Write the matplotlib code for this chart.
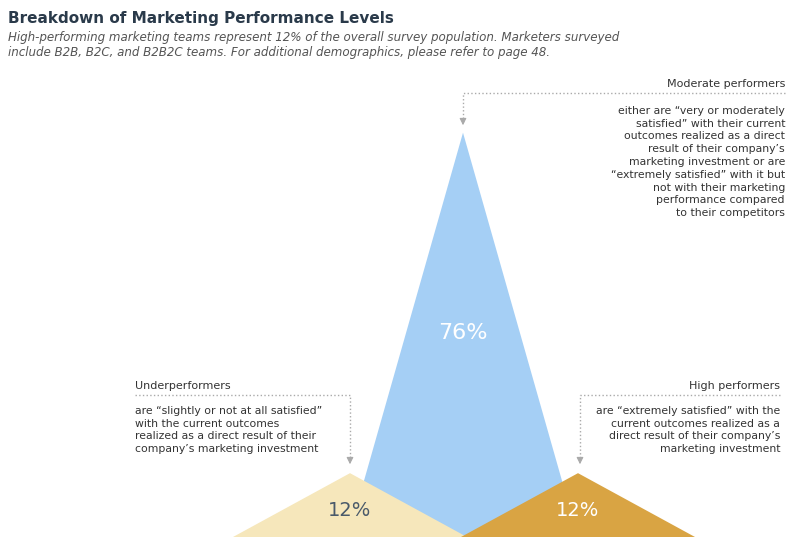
import matplotlib
matplotlib.use("Agg")
import matplotlib.pyplot as plt
from matplotlib.patches import Polygon

categories = ["Underperformers", "Moderate performers", "High performers"]
values = [12, 76, 12]
labels = ["12%", "76%", "12%"]
descriptions = [
    "are \u201cslightly or not at all satisfied\u201d\nwith the current outcomes\nrealized as a direct result of their\ncompany\u2019s marketing investment",
    "either are \u201cvery or moderately\nsatisfied\u201d with their current\noutcomes realized as a direct\nresult of their company\u2019s\nmarketing investment or are\n\u201cextremely satisfied\u201d with it but\nnot with their marketing\nperformance compared\nto their competitors",
    "are \u201cextremely satisfied\u201d with the\ncurrent outcomes realized as a\ndirect result of their company\u2019s\nmarketing investment",
]
colors = ["#f6e7bb", "#a5cff5", "#d9a443"]

fig = plt.figure(figsize=(8, 5.47), dpi=100)
ax = fig.add_axes([0, 0, 1, 1])
ax.set_xlim(0, 800)
ax.set_ylim(547, 0)
ax.axis("off")

base = 537
scale = 5.32
centers = [350, 463, 578]
halfw = [117, 115, 117]
order = [1, 0, 2]
for i in order:
    h = values[i] * scale
    poly = Polygon([(centers[i] - halfw[i], base), (centers[i], base - h),
                    (centers[i] + halfw[i], base)], closed=True,
                   facecolor=colors[i], edgecolor="none", zorder=2 + (i != 1))
    ax.add_patch(poly)

ax.text(463, 333, labels[1], color="white", fontsize=16, ha="center", va="center", zorder=5)
ax.text(350, 510, labels[0], color="#4a5a6a", fontsize=14, ha="center", va="center", zorder=5)
ax.text(578, 510, labels[2], color="white", fontsize=14, ha="center", va="center", zorder=5)

fig.text(8/800, 1-18/547, "Breakdown of Marketing Performance Levels", fontsize=11,
         fontweight="bold", color="#2a3a4a", va="center")
fig.text(8/800, 1-45/547, "High-performing marketing teams represent 12% of the overall survey population. Marketers surveyed\ninclude B2B, B2C, and B2B2C teams. For additional demographics, please refer to page 48.",
         fontsize=8.6, style="italic", color="#555", va="center", linespacing=1.25)

tc = "#333"
gc = "#aaaaaa"
# Moderate
ax.text(785, 84, categories[1], fontsize=8, color=tc, ha="right", va="center")
ax.text(785, 162, descriptions[1], fontsize=7.8, color=tc, ha="right", va="center", linespacing=1.35)
ax.plot([785, 463, 463], [93, 93, 123], ls=":", color=gc, lw=1)
ax.annotate("", xy=(463, 128), xytext=(463, 118),
            arrowprops=dict(arrowstyle="-|>", color=gc, lw=0.8))
# Under
ax.text(135, 386, categories[0], fontsize=8, color=tc, ha="left", va="center")
ax.text(135, 430, descriptions[0], fontsize=7.8, color=tc, ha="left", va="center", linespacing=1.35)
ax.plot([135, 350, 350], [395, 395, 460], ls=":", color=gc, lw=1)
ax.annotate("", xy=(350, 467), xytext=(350, 457),
            arrowprops=dict(arrowstyle="-|>", color=gc, lw=0.8))
# High
ax.text(780, 386, categories[2], fontsize=8, color=tc, ha="right", va="center")
ax.text(780, 430, descriptions[2], fontsize=7.8, color=tc, ha="right", va="center", linespacing=1.35)
ax.plot([780, 580, 580], [395, 395, 460], ls=":", color=gc, lw=1)
ax.annotate("", xy=(580, 467), xytext=(580, 457),
            arrowprops=dict(arrowstyle="-|>", color=gc, lw=0.8))

fig.savefig("out.png", dpi=100)
